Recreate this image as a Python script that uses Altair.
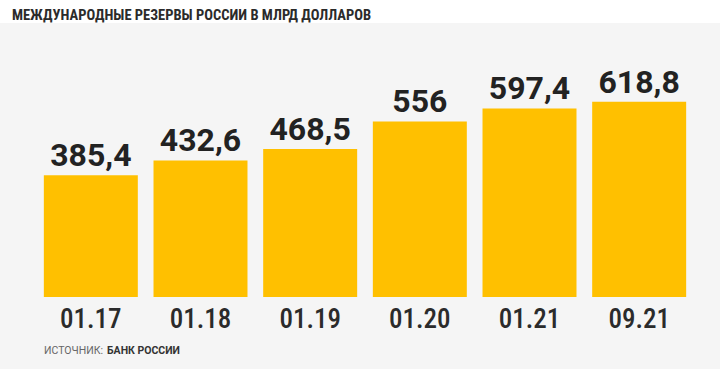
import altair as alt
import pandas as pd

periods = ["01.17", "01.18", "01.19", "01.20", "01.21", "09.21"]
reserves = [385.4, 432.6, 468.5, 556.0, 597.4, 618.8]
value_labels = ["385,4", "432,6", "468,5", "556", "597,4", "618,8"]
title_text = "МЕЖДУНАРОДНЫЕ РЕЗЕРВЫ РОССИИ В МЛРД ДОЛЛАРОВ"
source_label = "ИСТОЧНИК:"
source_name = "БАНК РОССИИ"

df = pd.DataFrame({"period": periods, "value": reserves, "label": value_labels})

FONT = "Roboto"
TFONT = "'Roboto Condensed', 'DejaVu Sans Condensed', 'Liberation Sans Narrow', Roboto"
W, H = 658, 221

x = alt.X("period:N", sort=periods,
          scale=alt.Scale(paddingInner=0.143, paddingOuter=0.0715),
          axis=alt.Axis(title=None, domain=False, ticks=False, labelAngle=0,
                        labelFont=TFONT, labelFontSize=27, labelFontWeight=500,
                        labelColor="#2b2b2b", labelPadding=9, labelBaseline="top"))
y = alt.Y("value:Q", scale=alt.Scale(domain=[0, 700], nice=False), axis=None)

base = alt.Chart(df)

bars = base.mark_bar(color="#FFC000").encode(x=x, y=y)
labels = base.mark_text(font=FONT, fontSize=32, fontWeight="bold", color="#222222",
                        baseline="alphabetic", dy=-9).encode(x=x, y=y, text="label:N")

strip = alt.Chart(pd.DataFrame({"a": [0]})).mark_rect(color="#ffffff").encode(
    x=alt.value(-36), x2=alt.value(W + 26), y=alt.value(-76), y2=alt.value(-53))

title = alt.Chart(pd.DataFrame({"t": [title_text]})).mark_text(
    font=TFONT, fontSize=14.5, fontWeight="bold", color="#2b2b2b", align="left",
    baseline="alphabetic").encode(x=alt.value(-24), y=alt.value(-56), text="t:N")

src1 = alt.Chart(pd.DataFrame({"t": [source_label]})).mark_text(
    font=FONT, fontSize=10.5, color="#666666", align="left",
    baseline="alphabetic").encode(x=alt.value(8), y=alt.value(H + 57), text="t:N")
src2 = alt.Chart(pd.DataFrame({"t": [source_name]})).mark_text(
    font=FONT, fontSize=10.5, fontWeight="bold", color="#333333", align="left",
    baseline="alphabetic").encode(x=alt.value(71), y=alt.value(H + 57), text="t:N")

chart = alt.layer(strip, bars, labels, title, src1, src2).properties(
    width=W, height=H,
    background="#f5f5f5",
    padding={"left": 36, "top": 76, "right": 26, "bottom": 72},
    autosize=alt.AutoSizeParams(type="none"),
).configure_view(stroke=None)

chart.save("out.html", embed_options={"renderer": "svg", "actions": False})
